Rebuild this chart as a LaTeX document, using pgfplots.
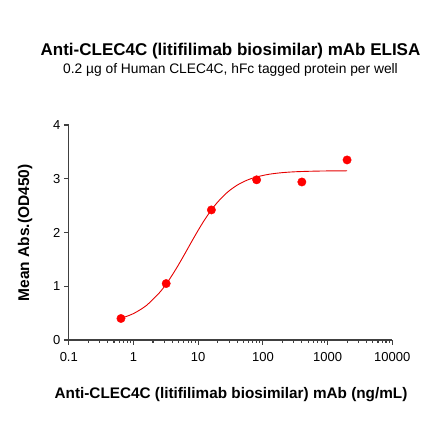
\documentclass[border=0pt]{standalone}
\usepackage{fontspec}
\setmainfont{Liberation Sans}
\usepackage{pgfplots}
\pgfplotsset{compat=1.18}
\begin{document}
\begin{tikzpicture}
\path[use as bounding box] (0,0) rectangle (440bp,441bp);
\begin{axis}[
  at={(68.8bp,101bp)}, anchor=south west,
  scale only axis, width=323.5bp, height=215bp,
  xmode=log, xmin=0.1, xmax=10000, ymin=0, ymax=4,
  axis x line*=bottom, axis y line*=left,
  axis line style={line width=1.1bp, color=black!75, -},
  xtick={0.1,1,10,100,1000,10000},
  xticklabels={0.1,1,10,100,1000,10000},
  minor xtick={},
  ytick={0,1,2,3,4},
  tick align=outside, major tick length=5bp,
  tick style={line width=1.1bp, color=black!75},
  /pgf/number format/assume math mode=true,
  ticklabel style={font=\fontsize{13bp}{15bp}\selectfont, text=black},
  xticklabel style={yshift=-4bp},
  clip=false,
]
\addplot[red!90!black, line width=0.9bp, smooth] coordinates {
(0.64,0.4025) (1,0.492) (1.585,0.643) (2.512,0.879) (3.2,1.042) (3.981,1.211)
(5.012,1.408) (6.310,1.618) (7.943,1.833) (10,2.042) (12.59,2.238) (16,2.420)
(19.95,2.565) (28.18,2.747) (39.81,2.879) (56.23,2.971) (80,3.034) (125.9,3.0845)
(199.5,3.1136) (316.2,3.130) (562.3,3.140) (1000,3.1455) (2000,3.148)
};
\addplot[only marks, mark=*, mark size=4.2bp, color=red, fill=red] coordinates {
(0.64,0.40) (3.2,1.05) (16,2.42) (80,2.98) (400,2.94) (2000,3.35)
};
\end{axis}
\node[font=\fontsize{17bp}{20bp}\selectfont\bfseries] at (230.5bp,390bp) {Anti-CLEC4C (litifilimab biosimilar) mAb ELISA};
\node[font=\fontsize{13.8bp}{16bp}\selectfont] at (230.5bp,371bp) {0.2 µg of Human CLEC4C, hFc tagged protein per well};
\node[font=\fontsize{15.3bp}{18bp}\selectfont\bfseries] at (231bp,46bp) {Anti-CLEC4C (litifilimab biosimilar) mAb (ng/mL)};
\node[font=\fontsize{15.5bp}{18bp}\selectfont\bfseries, rotate=90] at (25bp,208bp) {Mean Abs.(OD450)};
\end{tikzpicture}
\end{document}
